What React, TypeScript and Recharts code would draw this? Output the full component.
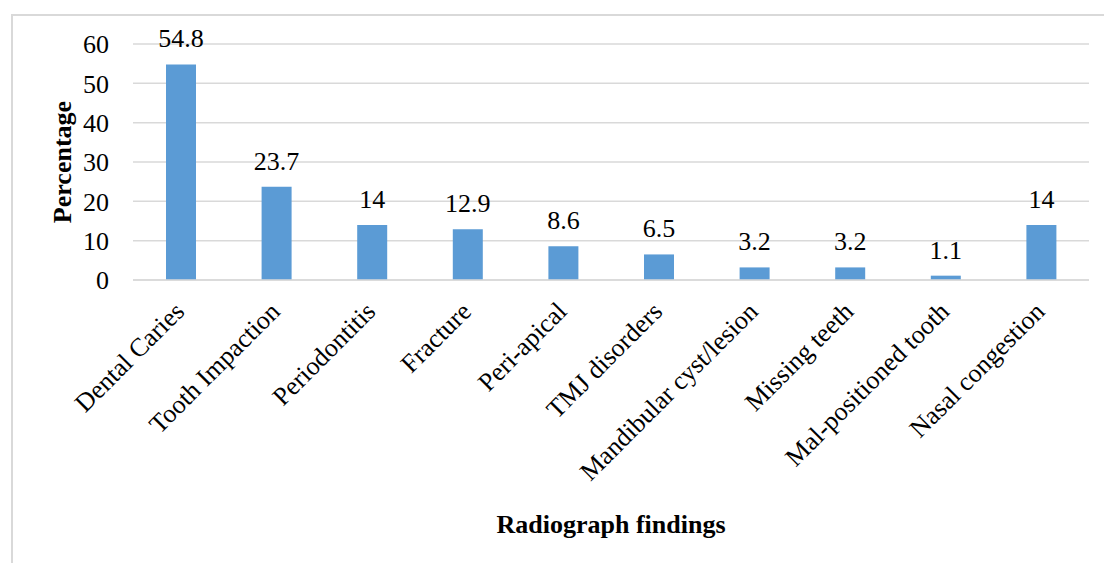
import { BarChart, Bar, XAxis, YAxis, CartesianGrid, LabelList, Label } from "recharts";

const categories = [
  "Dental Caries",
  "Tooth Impaction",
  "Periodontitis",
  "Fracture",
  "Peri-apical",
  "TMJ disorders",
  "Mandibular cyst/lesion",
  "Missing teeth",
  "Mal-positioned tooth",
  "Nasal congestion",
];
const percentages = [54.8, 23.7, 14, 12.9, 8.6, 6.5, 3.2, 3.2, 1.1, 14];
const yTicks = [0, 10, 20, 30, 40, 50, 60];

const data = categories.map((name, i) => ({ name, value: percentages[i] }));

const FONT = "Liberation Serif";

function AngledTick(props: any) {
  const { x, y, payload } = props;
  return (
    <g transform={`translate(${x + 5},${y + 25})`}>
      <text
        transform="rotate(-45)"
        textAnchor="end"
        style={{ fontFamily: FONT, fontSize: 26 }}
        fill="#000"
      >
        {payload.value}
      </text>
    </g>
  );
}

function YTitle() {
  return (
    <text
      x={62}
      y={162}
      transform="rotate(-90, 62, 162)"
      textAnchor="middle"
      dominantBaseline="central"
      style={{ fontFamily: FONT, fontSize: 26, fontWeight: "bold" }}
      fill="#000"
    >
      Percentage
    </text>
  );
}

export default function App() {
  return (
    <div style={{ position: "relative", width: 1104, height: 563, background: "#fff", fontFamily: FONT }}>
      <style>{`body{margin:0;overflow:hidden} svg text{font-family:"Liberation Serif",serif}`}</style>
      {/* chart frame, clipped at the right and bottom like the source */}
      <div
        style={{
          position: "absolute",
          left: 11,
          top: 14,
          width: 1110,
          height: 570,
          border: "2px solid #d9d9d9",
        }}
      />
      <div style={{ position: "absolute", left: 0, top: 0 }}>
        <BarChart
          width={1104}
          height={563}
          data={data}
          margin={{ top: 44, right: 15, bottom: 0, left: 0 }}
        >
          <CartesianGrid vertical={false} stroke="#d9d9d9" strokeWidth={1.5} />
          <XAxis
            dataKey="name"
            height={283}
            interval={0}
            tickLine={false}
            axisLine={{ stroke: "#d9d9d9", strokeWidth: 1.5 }}
            tick={<AngledTick />}
          >
            <Label
              value="Radiograph findings"
              position="insideBottom"
              offset={30}
              style={{ fontFamily: FONT, fontSize: 26, fontWeight: "bold", fill: "#000" }}
            />
          </XAxis>
          <YAxis
            width={133}
            domain={[0, 60]}
            ticks={yTicks}
            axisLine={false}
            tickLine={false}
            tickMargin={18}
            tick={{ fontFamily: FONT, fontSize: 26, fill: "#000" }}
          >
            <Label content={<YTitle />} />
          </YAxis>
          <Bar dataKey="value" fill="#5B9BD5" barSize={30} isAnimationActive={false}>
            <LabelList
              dataKey="value"
              position="top"
              offset={17}
              style={{ fontFamily: FONT, fontSize: 26, fill: "#000" }}
            />
          </Bar>
        </BarChart>
      </div>
    </div>
  );
}
